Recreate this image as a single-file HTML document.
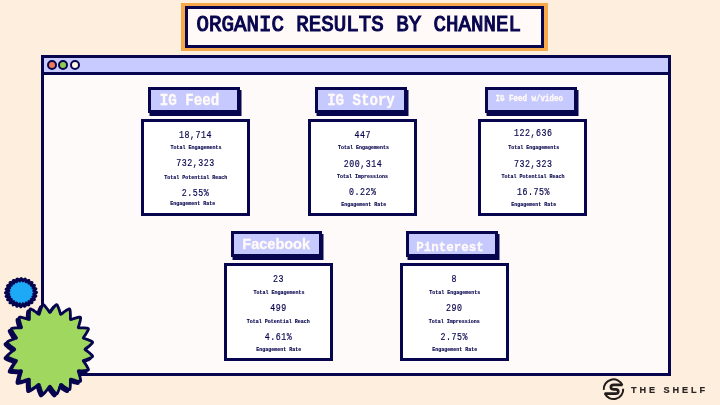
<!DOCTYPE html>
<html>
<head>
<meta charset="utf-8">
<title>Organic Results by Channel</title>
<style>
*{margin:0;padding:0;box-sizing:border-box;}
html,body{width:720px;height:405px;overflow:hidden;background:#FEEEDE;}
body{position:relative;font-family:"Liberation Mono",monospace;color:#07054E;}
.abs{position:absolute;}
#root{position:absolute;left:0;top:0;width:720px;height:405px;will-change:transform;}
#titleOuter{left:180.5px;top:3.3px;width:367.5px;height:48px;background:#F5A94B;}
#titleBox{left:185px;top:5.7px;width:359px;height:42.4px;border:3px solid #07054E;background:#FFFAF8;}
#titleText{left:196.5px;top:10.6px;height:30px;line-height:30px;font-weight:normal;-webkit-text-stroke:1.05px #07054E;font-size:20.8px;white-space:pre;transform:scale(1,1.09);transform-origin:0 50%;}
#win{left:41px;top:55px;width:630px;height:320.8px;border:3px solid #07054E;background:#FFFAFA;}
#bar{left:44px;top:58px;width:624px;height:17px;background:#C8CBFF;border-bottom:3px solid #07054E;}
.dot{width:10px;height:10px;border-radius:50%;border:2.1px solid #07054E;top:60.2px;}
.lbl{height:26.3px;border:3px solid #07054E;background:#C6C9FD;box-shadow:1.5px 3px 0 #07054E;}
.lt{-webkit-text-stroke:0.3px #FFFAF8;color:#FFFAF8;font-weight:bold;white-space:pre;text-align:center;width:200px;height:20px;line-height:20px;transform-origin:50% 50%;}
.card{border:3px solid #07054E;background:#FFFFFF;}
.num{width:120px;height:12px;font-size:8.3px;letter-spacing:0.52px;line-height:12px;text-align:center;white-space:pre;-webkit-text-stroke:0.15px #07054E;transform:scaleY(1.235);transform-origin:50% 75%;}
.cap{width:120px;height:8px;font-size:5px;line-height:8px;font-weight:bold;-webkit-text-stroke:0.12px #07054E;text-align:center;white-space:pre;transform:scaleY(1.15);transform-origin:50% 75%;}
</style>
</head>
<body>
<div id="root">
<!-- title -->
<div class="abs" id="titleOuter"></div>
<div class="abs" id="titleBox"></div>
<div class="abs" id="titleText">ORGANIC RESULTS BY CHANNEL</div>

<!-- window -->
<div class="abs" id="win"></div>
<div class="abs" id="bar"></div>
<div class="abs dot" style="left:47px;background:#F07A58;"></div>
<div class="abs dot" style="left:58.25px;background:#8FCB52;"></div>
<div class="abs dot" style="left:69.55px;background:#FFF3E2;"></div>

<!-- card 1 : IG Feed -->
<div class="abs lbl" style="left:148px;top:87px;width:91.5px;"></div>
<div class="abs lt" style="left:89.5px;top:90.6px;font-family:&quot;Liberation Mono&quot;,sans-serif;font-size:14.2px;transform:scaleY(1.1);">IG Feed</div>
<div class="abs card" style="left:141.1px;top:118.6px;width:108.8px;height:97.1px;"></div>
<div class="abs num" style="left:135.55px;top:130px;">18,714</div>
<div class="abs cap" style="left:136px;top:144px;">Total Engagements</div>
<div class="abs num" style="left:135.5px;top:158px;">732,323</div>
<div class="abs cap" style="left:135.65px;top:174px;">Total Potential Reach</div>
<div class="abs num" style="left:135.5px;top:188px;">2.55%</div>
<div class="abs cap" style="left:132.85px;top:200px;">Engagement Rate</div>

<!-- card 2 : IG Story -->
<div class="abs lbl" style="left:315.4px;top:87px;width:91.5px;"></div>
<div class="abs lt" style="left:261px;top:90px;font-family:&quot;Liberation Mono&quot;,sans-serif;font-size:14.1px;transform:scaleY(1.13);">IG Story</div>
<div class="abs card" style="left:308.2px;top:118.5px;width:109.1px;height:97.2px;"></div>
<div class="abs num" style="left:302.85px;top:130px;">447</div>
<div class="abs cap" style="left:303.6px;top:144px;">Total Engagements</div>
<div class="abs num" style="left:303px;top:159px;">200,314</div>
<div class="abs cap" style="left:302.6px;top:173px;">Total Impressions</div>
<div class="abs num" style="left:302.85px;top:187px;">0.22%</div>
<div class="abs cap" style="left:303.65px;top:201px;">Engagement Rate</div>

<!-- card 3 : IG Feed w/video -->
<div class="abs lbl" style="left:485.4px;top:87px;width:91.5px;"></div>
<div class="abs lt" style="left:429.2px;top:89.3px;font-family:&quot;Liberation Mono&quot;,sans-serif;font-size:7.5px;transform:scaleY(1.15);">IG Feed w/video</div>
<div class="abs card" style="left:478.4px;top:118.5px;width:109.1px;height:97.2px;"></div>
<div class="abs num" style="left:473.25px;top:128px;">122,636</div>
<div class="abs cap" style="left:473.7px;top:144px;">Total Engagements</div>
<div class="abs num" style="left:473.15px;top:159px;">732,323</div>
<div class="abs cap" style="left:472.95px;top:173px;">Total Potential Reach</div>
<div class="abs num" style="left:473.45px;top:187px;">16.75%</div>
<div class="abs cap" style="left:473.7px;top:201px;">Engagement Rate</div>

<!-- card 4 : Facebook -->
<div class="abs lbl" style="left:230.6px;top:231.2px;width:91.5px;"></div>
<div class="abs lt" style="left:176.2px;top:233.7px;font-family:&quot;Liberation Sans&quot;,sans-serif;font-size:14.5px;">Facebook</div>
<div class="abs card" style="left:223.9px;top:262.8px;width:109px;height:97.9px;"></div>
<div class="abs num" style="left:218.5px;top:274px;">23</div>
<div class="abs cap" style="left:218.95px;top:289px;">Total Engagements</div>
<div class="abs num" style="left:218.45px;top:303px;">499</div>
<div class="abs cap" style="left:218.2px;top:318px;">Total Potential Reach</div>
<div class="abs num" style="left:218.45px;top:332px;">4.61%</div>
<div class="abs cap" style="left:218.85px;top:346px;">Engagement Rate</div>

<!-- card 5 : Pinterest -->
<div class="abs lbl" style="left:406.4px;top:231.2px;width:91.6px;"></div>
<div class="abs lt" style="left:350.1px;top:237.7px;font-family:&quot;Liberation Mono&quot;,sans-serif;font-size:12.5px;transform:scaleY(1.08);">Pinterest</div>
<div class="abs card" style="left:399.9px;top:262.8px;width:109px;height:97.9px;"></div>
<div class="abs num" style="left:394.2px;top:274px;">8</div>
<div class="abs cap" style="left:394.7px;top:289px;">Total Engagements</div>
<div class="abs num" style="left:394.25px;top:303px;">290</div>
<div class="abs cap" style="left:394.25px;top:318px;">Total Impressions</div>
<div class="abs num" style="left:394.35px;top:332px;">2.75%</div>
<div class="abs cap" style="left:394.7px;top:346px;">Engagement Rate</div>

<!-- decorative starbursts -->
<svg class="abs" style="left:0;top:0;" width="720" height="405" viewBox="0 0 720 405">
<polygon points="36.7,292.4 36.3,292.1 35.7,291.8 35.1,291.6 34.5,291.3 33.9,291.1 33.5,290.9 33.8,290.6 34.3,290.3 34.9,289.9 35.4,289.5 35.9,289.1 36.1,288.8 35.7,288.5 35.1,288.4 34.4,288.3 33.7,288.2 33.1,288.2 32.7,288.1 32.9,287.7 33.3,287.3 33.7,286.8 34.1,286.3 34.5,285.8 34.6,285.3 34.1,285.3 33.5,285.3 32.8,285.3 32.1,285.4 31.5,285.5 31.1,285.5 31.2,285.1 31.4,284.6 31.7,284.0 32.0,283.4 32.1,282.9 32.2,282.4 31.7,282.4 31.1,282.6 30.4,282.9 29.8,283.1 29.2,283.3 28.8,283.4 28.8,283.0 28.9,282.4 29.0,281.8 29.1,281.2 29.1,280.6 29.0,280.2 28.5,280.3 28.0,280.6 27.4,281.0 26.9,281.4 26.4,281.8 26.0,282.0 25.9,281.6 25.8,281.0 25.7,280.4 25.6,279.8 25.5,279.2 25.3,278.8 24.9,279.0 24.4,279.5 24.0,279.9 23.6,280.4 23.2,280.9 22.9,281.2 22.7,280.8 22.5,280.3 22.2,279.7 21.9,279.2 21.6,278.6 21.3,278.3 21.0,278.6 20.7,279.2 20.4,279.7 20.1,280.3 19.9,280.8 19.7,281.2 19.4,280.9 19.0,280.4 18.6,279.9 18.2,279.5 17.7,279.0 17.3,278.8 17.1,279.2 17.0,279.8 16.9,280.4 16.8,281.0 16.7,281.6 16.6,282.0 16.2,281.8 15.7,281.4 15.2,281.0 14.6,280.6 14.1,280.3 13.6,280.2 13.5,280.6 13.5,281.2 13.6,281.8 13.7,282.4 13.8,283.0 13.8,283.4 13.4,283.3 12.8,283.1 12.2,282.9 11.5,282.6 10.9,282.4 10.4,282.4 10.5,282.9 10.6,283.4 10.9,284.0 11.2,284.6 11.4,285.1 11.5,285.5 11.1,285.5 10.5,285.4 9.8,285.3 9.1,285.3 8.5,285.3 8.0,285.3 8.1,285.8 8.5,286.3 8.9,286.8 9.3,287.3 9.7,287.7 9.9,288.1 9.5,288.2 8.9,288.2 8.2,288.3 7.5,288.4 6.9,288.5 6.5,288.8 6.7,289.1 7.2,289.5 7.7,289.9 8.3,290.3 8.8,290.6 9.1,290.9 8.7,291.1 8.1,291.3 7.5,291.6 6.9,291.8 6.3,292.1 5.9,292.4 6.3,292.7 6.9,293.0 7.5,293.2 8.1,293.5 8.7,293.7 9.1,293.9 8.8,294.2 8.3,294.5 7.7,294.9 7.2,295.3 6.7,295.7 6.5,296.0 6.9,296.3 7.5,296.4 8.2,296.5 8.9,296.6 9.5,296.6 9.9,296.7 9.7,297.1 9.3,297.5 8.9,298.0 8.5,298.5 8.1,299.0 8.0,299.4 8.5,299.5 9.1,299.5 9.8,299.5 10.5,299.4 11.1,299.3 11.5,299.3 11.4,299.7 11.2,300.2 10.9,300.8 10.6,301.4 10.5,301.9 10.4,302.4 10.9,302.4 11.5,302.2 12.2,301.9 12.8,301.7 13.4,301.5 13.8,301.4 13.8,301.8 13.7,302.4 13.6,303.0 13.5,303.6 13.5,304.2 13.6,304.6 14.1,304.5 14.6,304.2 15.2,303.8 15.7,303.4 16.2,303.0 16.6,302.8 16.7,303.2 16.8,303.8 16.9,304.4 17.0,305.0 17.1,305.6 17.3,306.0 17.7,305.8 18.2,305.3 18.6,304.9 19.0,304.4 19.4,303.9 19.7,303.6 19.9,304.0 20.1,304.5 20.4,305.1 20.7,305.6 21.0,306.2 21.3,306.5 21.6,306.2 21.9,305.6 22.2,305.1 22.5,304.5 22.7,304.0 22.9,303.6 23.2,303.9 23.6,304.4 24.0,304.9 24.4,305.3 24.9,305.8 25.3,306.0 25.5,305.6 25.6,305.0 25.7,304.4 25.8,303.8 25.9,303.2 26.0,302.8 26.4,303.0 26.9,303.4 27.4,303.8 28.0,304.2 28.5,304.5 29.0,304.6 29.1,304.2 29.1,303.6 29.0,303.0 28.9,302.4 28.8,301.8 28.8,301.4 29.2,301.5 29.8,301.7 30.4,301.9 31.1,302.2 31.7,302.4 32.2,302.4 32.1,301.9 32.0,301.4 31.7,300.8 31.4,300.2 31.2,299.7 31.1,299.3 31.5,299.3 32.1,299.4 32.8,299.5 33.5,299.5 34.1,299.5 34.6,299.4 34.5,299.0 34.1,298.5 33.7,298.0 33.3,297.5 32.9,297.1 32.7,296.7 33.1,296.6 33.7,296.6 34.4,296.5 35.1,296.4 35.7,296.3 36.1,296.0 35.9,295.7 35.4,295.3 34.9,294.9 34.3,294.5 33.8,294.2 33.5,293.9 33.9,293.7 34.5,293.5 35.1,293.2 35.7,293.0 36.3,292.7" transform="translate(-0.6,0.5)" fill="#07054E" stroke="#07054E" stroke-width="2.6" stroke-linejoin="round"/>
<polygon points="36.7,292.4 36.3,292.1 35.7,291.8 35.1,291.6 34.5,291.3 33.9,291.1 33.5,290.9 33.8,290.6 34.3,290.3 34.9,289.9 35.4,289.5 35.9,289.1 36.1,288.8 35.7,288.5 35.1,288.4 34.4,288.3 33.7,288.2 33.1,288.2 32.7,288.1 32.9,287.7 33.3,287.3 33.7,286.8 34.1,286.3 34.5,285.8 34.6,285.3 34.1,285.3 33.5,285.3 32.8,285.3 32.1,285.4 31.5,285.5 31.1,285.5 31.2,285.1 31.4,284.6 31.7,284.0 32.0,283.4 32.1,282.9 32.2,282.4 31.7,282.4 31.1,282.6 30.4,282.9 29.8,283.1 29.2,283.3 28.8,283.4 28.8,283.0 28.9,282.4 29.0,281.8 29.1,281.2 29.1,280.6 29.0,280.2 28.5,280.3 28.0,280.6 27.4,281.0 26.9,281.4 26.4,281.8 26.0,282.0 25.9,281.6 25.8,281.0 25.7,280.4 25.6,279.8 25.5,279.2 25.3,278.8 24.9,279.0 24.4,279.5 24.0,279.9 23.6,280.4 23.2,280.9 22.9,281.2 22.7,280.8 22.5,280.3 22.2,279.7 21.9,279.2 21.6,278.6 21.3,278.3 21.0,278.6 20.7,279.2 20.4,279.7 20.1,280.3 19.9,280.8 19.7,281.2 19.4,280.9 19.0,280.4 18.6,279.9 18.2,279.5 17.7,279.0 17.3,278.8 17.1,279.2 17.0,279.8 16.9,280.4 16.8,281.0 16.7,281.6 16.6,282.0 16.2,281.8 15.7,281.4 15.2,281.0 14.6,280.6 14.1,280.3 13.6,280.2 13.5,280.6 13.5,281.2 13.6,281.8 13.7,282.4 13.8,283.0 13.8,283.4 13.4,283.3 12.8,283.1 12.2,282.9 11.5,282.6 10.9,282.4 10.4,282.4 10.5,282.9 10.6,283.4 10.9,284.0 11.2,284.6 11.4,285.1 11.5,285.5 11.1,285.5 10.5,285.4 9.8,285.3 9.1,285.3 8.5,285.3 8.0,285.3 8.1,285.8 8.5,286.3 8.9,286.8 9.3,287.3 9.7,287.7 9.9,288.1 9.5,288.2 8.9,288.2 8.2,288.3 7.5,288.4 6.9,288.5 6.5,288.8 6.7,289.1 7.2,289.5 7.7,289.9 8.3,290.3 8.8,290.6 9.1,290.9 8.7,291.1 8.1,291.3 7.5,291.6 6.9,291.8 6.3,292.1 5.9,292.4 6.3,292.7 6.9,293.0 7.5,293.2 8.1,293.5 8.7,293.7 9.1,293.9 8.8,294.2 8.3,294.5 7.7,294.9 7.2,295.3 6.7,295.7 6.5,296.0 6.9,296.3 7.5,296.4 8.2,296.5 8.9,296.6 9.5,296.6 9.9,296.7 9.7,297.1 9.3,297.5 8.9,298.0 8.5,298.5 8.1,299.0 8.0,299.4 8.5,299.5 9.1,299.5 9.8,299.5 10.5,299.4 11.1,299.3 11.5,299.3 11.4,299.7 11.2,300.2 10.9,300.8 10.6,301.4 10.5,301.9 10.4,302.4 10.9,302.4 11.5,302.2 12.2,301.9 12.8,301.7 13.4,301.5 13.8,301.4 13.8,301.8 13.7,302.4 13.6,303.0 13.5,303.6 13.5,304.2 13.6,304.6 14.1,304.5 14.6,304.2 15.2,303.8 15.7,303.4 16.2,303.0 16.6,302.8 16.7,303.2 16.8,303.8 16.9,304.4 17.0,305.0 17.1,305.6 17.3,306.0 17.7,305.8 18.2,305.3 18.6,304.9 19.0,304.4 19.4,303.9 19.7,303.6 19.9,304.0 20.1,304.5 20.4,305.1 20.7,305.6 21.0,306.2 21.3,306.5 21.6,306.2 21.9,305.6 22.2,305.1 22.5,304.5 22.7,304.0 22.9,303.6 23.2,303.9 23.6,304.4 24.0,304.9 24.4,305.3 24.9,305.8 25.3,306.0 25.5,305.6 25.6,305.0 25.7,304.4 25.8,303.8 25.9,303.2 26.0,302.8 26.4,303.0 26.9,303.4 27.4,303.8 28.0,304.2 28.5,304.5 29.0,304.6 29.1,304.2 29.1,303.6 29.0,303.0 28.9,302.4 28.8,301.8 28.8,301.4 29.2,301.5 29.8,301.7 30.4,301.9 31.1,302.2 31.7,302.4 32.2,302.4 32.1,301.9 32.0,301.4 31.7,300.8 31.4,300.2 31.2,299.7 31.1,299.3 31.5,299.3 32.1,299.4 32.8,299.5 33.5,299.5 34.1,299.5 34.6,299.4 34.5,299.0 34.1,298.5 33.7,298.0 33.3,297.5 32.9,297.1 32.7,296.7 33.1,296.6 33.7,296.6 34.4,296.5 35.1,296.4 35.7,296.3 36.1,296.0 35.9,295.7 35.4,295.3 34.9,294.9 34.3,294.5 33.8,294.2 33.5,293.9 33.9,293.7 34.5,293.5 35.1,293.2 35.7,293.0 36.3,292.7" fill="#1DA9F6" stroke="#07054E" stroke-width="2.6" stroke-linejoin="round"/>
<polygon points="85.0,349.3 85.4,348.8 86.0,348.3 86.8,347.8 87.5,347.2 88.2,346.7 89.0,346.1 89.7,345.5 90.4,344.8 91.1,344.2 91.8,343.5 92.4,342.9 92.6,342.2 92.2,341.7 91.4,341.2 90.6,340.8 89.8,340.4 88.9,340.1 88.0,339.7 87.1,339.4 86.3,339.1 85.4,338.8 84.6,338.5 83.8,338.3 83.3,337.9 83.5,337.4 84.0,336.7 84.5,335.9 85.1,335.2 85.6,334.4 86.1,333.6 86.6,332.8 87.1,331.9 87.6,331.1 88.0,330.3 88.4,329.4 88.4,328.7 87.9,328.4 87.0,328.2 86.1,328.1 85.2,328.0 84.3,327.9 83.3,327.9 82.4,327.8 81.5,327.8 80.6,327.8 79.7,327.9 78.9,327.9 78.3,327.7 78.3,327.1 78.6,326.3 78.9,325.4 79.2,324.5 79.4,323.6 79.7,322.6 80.0,321.7 80.2,320.7 80.4,319.8 80.6,318.8 80.6,317.9 80.5,317.3 79.8,317.1 79.0,317.2 78.1,317.4 77.2,317.6 76.3,317.8 75.4,318.1 74.5,318.4 73.6,318.7 72.7,319.0 71.9,319.3 71.1,319.5 70.6,319.5 70.4,319.0 70.4,318.1 70.4,317.2 70.4,316.2 70.4,315.3 70.4,314.3 70.3,313.3 70.3,312.3 70.2,311.4 70.1,310.4 69.9,309.5 69.5,308.9 68.9,309.0 68.1,309.4 67.3,309.8 66.5,310.3 65.7,310.8 64.9,311.4 64.1,311.9 63.4,312.5 62.7,313.1 62.0,313.6 61.3,314.1 60.8,314.3 60.4,313.8 60.2,313.0 59.9,312.1 59.6,311.2 59.4,310.3 59.1,309.4 58.7,308.5 58.4,307.6 58.0,306.7 57.6,305.8 57.2,305.0 56.7,304.6 56.1,304.8 55.4,305.4 54.8,306.1 54.2,306.9 53.6,307.6 53.0,308.4 52.4,309.1 51.9,309.9 51.3,310.7 50.8,311.5 50.4,312.1 49.9,312.5 49.4,312.1 49.0,311.5 48.5,310.7 47.9,309.9 47.4,309.1 46.8,308.4 46.2,307.6 45.6,306.9 45.0,306.1 44.4,305.4 43.7,304.8 43.1,304.6 42.6,305.0 42.2,305.8 41.8,306.7 41.4,307.6 41.1,308.5 40.7,309.4 40.4,310.3 40.2,311.2 39.9,312.1 39.6,313.0 39.4,313.8 39.0,314.3 38.5,314.1 37.8,313.6 37.1,313.1 36.4,312.5 35.7,311.9 34.9,311.4 34.1,310.8 33.3,310.3 32.5,309.8 31.7,309.4 30.9,309.0 30.3,308.9 29.9,309.5 29.7,310.4 29.6,311.4 29.5,312.3 29.5,313.3 29.4,314.3 29.4,315.3 29.4,316.2 29.4,317.2 29.4,318.1 29.4,319.0 29.2,319.5 28.7,319.5 27.9,319.3 27.1,319.0 26.2,318.7 25.3,318.4 24.4,318.1 23.5,317.8 22.6,317.6 21.7,317.4 20.8,317.2 20.0,317.1 19.3,317.3 19.2,317.9 19.2,318.8 19.4,319.8 19.6,320.7 19.8,321.7 20.1,322.6 20.4,323.6 20.6,324.5 20.9,325.4 21.2,326.3 21.5,327.1 21.5,327.7 20.9,327.9 20.1,327.9 19.2,327.8 18.3,327.8 17.4,327.8 16.5,327.9 15.5,327.9 14.6,328.0 13.7,328.1 12.8,328.2 11.9,328.4 11.4,328.7 11.4,329.4 11.8,330.3 12.2,331.1 12.7,331.9 13.2,332.8 13.7,333.6 14.2,334.4 14.7,335.2 15.3,335.9 15.8,336.7 16.3,337.4 16.5,337.9 16.0,338.3 15.2,338.5 14.4,338.8 13.5,339.1 12.7,339.4 11.8,339.7 10.9,340.1 10.0,340.4 9.2,340.8 8.4,341.2 7.6,341.7 7.2,342.2 7.4,342.9 8.0,343.5 8.7,344.2 9.4,344.8 10.1,345.5 10.8,346.1 11.6,346.7 12.3,347.2 13.0,347.8 13.8,348.3 14.4,348.8 14.8,349.3 14.4,349.8 13.8,350.3 13.0,350.8 12.3,351.4 11.6,351.9 10.8,352.5 10.1,353.1 9.4,353.8 8.7,354.4 8.0,355.1 7.4,355.7 7.2,356.4 7.6,356.9 8.4,357.4 9.2,357.8 10.0,358.2 10.9,358.5 11.8,358.9 12.7,359.2 13.5,359.5 14.4,359.8 15.2,360.1 16.0,360.3 16.5,360.7 16.3,361.2 15.8,361.9 15.3,362.7 14.7,363.4 14.2,364.2 13.7,365.0 13.2,365.8 12.7,366.7 12.2,367.5 11.8,368.3 11.4,369.2 11.4,369.9 11.9,370.2 12.8,370.4 13.7,370.5 14.6,370.6 15.5,370.7 16.5,370.7 17.4,370.8 18.3,370.8 19.2,370.8 20.1,370.7 20.9,370.7 21.5,370.9 21.5,371.5 21.2,372.3 20.9,373.2 20.6,374.1 20.4,375.0 20.1,376.0 19.8,376.9 19.6,377.9 19.4,378.8 19.2,379.8 19.2,380.7 19.3,381.3 20.0,381.5 20.8,381.4 21.7,381.2 22.6,381.0 23.5,380.8 24.4,380.5 25.3,380.2 26.2,379.9 27.1,379.6 27.9,379.3 28.7,379.1 29.2,379.1 29.4,379.6 29.4,380.5 29.4,381.4 29.4,382.4 29.4,383.3 29.4,384.3 29.5,385.3 29.5,386.3 29.6,387.2 29.7,388.2 29.9,389.1 30.3,389.7 30.9,389.6 31.7,389.2 32.5,388.8 33.3,388.3 34.1,387.8 34.9,387.2 35.7,386.7 36.4,386.1 37.1,385.5 37.8,385.0 38.5,384.5 39.0,384.3 39.4,384.8 39.6,385.6 39.9,386.5 40.2,387.4 40.4,388.3 40.7,389.2 41.1,390.1 41.4,391.0 41.8,391.9 42.2,392.8 42.6,393.6 43.1,394.0 43.7,393.8 44.4,393.2 45.0,392.5 45.6,391.7 46.2,391.0 46.8,390.2 47.4,389.5 47.9,388.7 48.5,387.9 49.0,387.1 49.4,386.5 49.9,386.1 50.4,386.5 50.8,387.1 51.3,387.9 51.9,388.7 52.4,389.5 53.0,390.2 53.6,391.0 54.2,391.7 54.8,392.5 55.4,393.2 56.1,393.8 56.7,394.0 57.2,393.6 57.6,392.8 58.0,391.9 58.4,391.0 58.7,390.1 59.1,389.2 59.4,388.3 59.6,387.4 59.9,386.5 60.2,385.6 60.4,384.8 60.8,384.3 61.3,384.5 62.0,385.0 62.7,385.5 63.4,386.1 64.1,386.7 64.9,387.2 65.7,387.8 66.5,388.3 67.3,388.8 68.1,389.2 68.9,389.6 69.5,389.7 69.9,389.1 70.1,388.2 70.2,387.2 70.3,386.3 70.3,385.3 70.4,384.3 70.4,383.3 70.4,382.4 70.4,381.4 70.4,380.5 70.4,379.6 70.6,379.1 71.1,379.1 71.9,379.3 72.7,379.6 73.6,379.9 74.5,380.2 75.4,380.5 76.3,380.8 77.2,381.0 78.1,381.2 79.0,381.4 79.8,381.5 80.5,381.3 80.6,380.7 80.6,379.8 80.4,378.8 80.2,377.9 80.0,376.9 79.7,376.0 79.4,375.0 79.2,374.1 78.9,373.2 78.6,372.3 78.3,371.5 78.3,370.9 78.9,370.7 79.7,370.7 80.6,370.8 81.5,370.8 82.4,370.8 83.3,370.7 84.3,370.7 85.2,370.6 86.1,370.5 87.0,370.4 87.9,370.2 88.4,369.9 88.4,369.2 88.0,368.3 87.6,367.5 87.1,366.7 86.6,365.8 86.1,365.0 85.6,364.2 85.1,363.4 84.5,362.7 84.0,361.9 83.5,361.2 83.3,360.7 83.8,360.3 84.6,360.1 85.4,359.8 86.3,359.5 87.1,359.2 88.0,358.9 88.9,358.5 89.8,358.2 90.6,357.8 91.4,357.4 92.2,356.9 92.6,356.4 92.4,355.7 91.8,355.1 91.1,354.4 90.4,353.8 89.7,353.1 89.0,352.5 88.2,351.9 87.5,351.4 86.8,350.8 86.0,350.3 85.4,349.8" transform="translate(-2.2,2)" fill="#07054E" stroke="#07054E" stroke-width="2.8" stroke-linejoin="round"/>
<polygon points="85.0,349.3 85.4,348.8 86.0,348.3 86.8,347.8 87.5,347.2 88.2,346.7 89.0,346.1 89.7,345.5 90.4,344.8 91.1,344.2 91.8,343.5 92.4,342.9 92.6,342.2 92.2,341.7 91.4,341.2 90.6,340.8 89.8,340.4 88.9,340.1 88.0,339.7 87.1,339.4 86.3,339.1 85.4,338.8 84.6,338.5 83.8,338.3 83.3,337.9 83.5,337.4 84.0,336.7 84.5,335.9 85.1,335.2 85.6,334.4 86.1,333.6 86.6,332.8 87.1,331.9 87.6,331.1 88.0,330.3 88.4,329.4 88.4,328.7 87.9,328.4 87.0,328.2 86.1,328.1 85.2,328.0 84.3,327.9 83.3,327.9 82.4,327.8 81.5,327.8 80.6,327.8 79.7,327.9 78.9,327.9 78.3,327.7 78.3,327.1 78.6,326.3 78.9,325.4 79.2,324.5 79.4,323.6 79.7,322.6 80.0,321.7 80.2,320.7 80.4,319.8 80.6,318.8 80.6,317.9 80.5,317.3 79.8,317.1 79.0,317.2 78.1,317.4 77.2,317.6 76.3,317.8 75.4,318.1 74.5,318.4 73.6,318.7 72.7,319.0 71.9,319.3 71.1,319.5 70.6,319.5 70.4,319.0 70.4,318.1 70.4,317.2 70.4,316.2 70.4,315.3 70.4,314.3 70.3,313.3 70.3,312.3 70.2,311.4 70.1,310.4 69.9,309.5 69.5,308.9 68.9,309.0 68.1,309.4 67.3,309.8 66.5,310.3 65.7,310.8 64.9,311.4 64.1,311.9 63.4,312.5 62.7,313.1 62.0,313.6 61.3,314.1 60.8,314.3 60.4,313.8 60.2,313.0 59.9,312.1 59.6,311.2 59.4,310.3 59.1,309.4 58.7,308.5 58.4,307.6 58.0,306.7 57.6,305.8 57.2,305.0 56.7,304.6 56.1,304.8 55.4,305.4 54.8,306.1 54.2,306.9 53.6,307.6 53.0,308.4 52.4,309.1 51.9,309.9 51.3,310.7 50.8,311.5 50.4,312.1 49.9,312.5 49.4,312.1 49.0,311.5 48.5,310.7 47.9,309.9 47.4,309.1 46.8,308.4 46.2,307.6 45.6,306.9 45.0,306.1 44.4,305.4 43.7,304.8 43.1,304.6 42.6,305.0 42.2,305.8 41.8,306.7 41.4,307.6 41.1,308.5 40.7,309.4 40.4,310.3 40.2,311.2 39.9,312.1 39.6,313.0 39.4,313.8 39.0,314.3 38.5,314.1 37.8,313.6 37.1,313.1 36.4,312.5 35.7,311.9 34.9,311.4 34.1,310.8 33.3,310.3 32.5,309.8 31.7,309.4 30.9,309.0 30.3,308.9 29.9,309.5 29.7,310.4 29.6,311.4 29.5,312.3 29.5,313.3 29.4,314.3 29.4,315.3 29.4,316.2 29.4,317.2 29.4,318.1 29.4,319.0 29.2,319.5 28.7,319.5 27.9,319.3 27.1,319.0 26.2,318.7 25.3,318.4 24.4,318.1 23.5,317.8 22.6,317.6 21.7,317.4 20.8,317.2 20.0,317.1 19.3,317.3 19.2,317.9 19.2,318.8 19.4,319.8 19.6,320.7 19.8,321.7 20.1,322.6 20.4,323.6 20.6,324.5 20.9,325.4 21.2,326.3 21.5,327.1 21.5,327.7 20.9,327.9 20.1,327.9 19.2,327.8 18.3,327.8 17.4,327.8 16.5,327.9 15.5,327.9 14.6,328.0 13.7,328.1 12.8,328.2 11.9,328.4 11.4,328.7 11.4,329.4 11.8,330.3 12.2,331.1 12.7,331.9 13.2,332.8 13.7,333.6 14.2,334.4 14.7,335.2 15.3,335.9 15.8,336.7 16.3,337.4 16.5,337.9 16.0,338.3 15.2,338.5 14.4,338.8 13.5,339.1 12.7,339.4 11.8,339.7 10.9,340.1 10.0,340.4 9.2,340.8 8.4,341.2 7.6,341.7 7.2,342.2 7.4,342.9 8.0,343.5 8.7,344.2 9.4,344.8 10.1,345.5 10.8,346.1 11.6,346.7 12.3,347.2 13.0,347.8 13.8,348.3 14.4,348.8 14.8,349.3 14.4,349.8 13.8,350.3 13.0,350.8 12.3,351.4 11.6,351.9 10.8,352.5 10.1,353.1 9.4,353.8 8.7,354.4 8.0,355.1 7.4,355.7 7.2,356.4 7.6,356.9 8.4,357.4 9.2,357.8 10.0,358.2 10.9,358.5 11.8,358.9 12.7,359.2 13.5,359.5 14.4,359.8 15.2,360.1 16.0,360.3 16.5,360.7 16.3,361.2 15.8,361.9 15.3,362.7 14.7,363.4 14.2,364.2 13.7,365.0 13.2,365.8 12.7,366.7 12.2,367.5 11.8,368.3 11.4,369.2 11.4,369.9 11.9,370.2 12.8,370.4 13.7,370.5 14.6,370.6 15.5,370.7 16.5,370.7 17.4,370.8 18.3,370.8 19.2,370.8 20.1,370.7 20.9,370.7 21.5,370.9 21.5,371.5 21.2,372.3 20.9,373.2 20.6,374.1 20.4,375.0 20.1,376.0 19.8,376.9 19.6,377.9 19.4,378.8 19.2,379.8 19.2,380.7 19.3,381.3 20.0,381.5 20.8,381.4 21.7,381.2 22.6,381.0 23.5,380.8 24.4,380.5 25.3,380.2 26.2,379.9 27.1,379.6 27.9,379.3 28.7,379.1 29.2,379.1 29.4,379.6 29.4,380.5 29.4,381.4 29.4,382.4 29.4,383.3 29.4,384.3 29.5,385.3 29.5,386.3 29.6,387.2 29.7,388.2 29.9,389.1 30.3,389.7 30.9,389.6 31.7,389.2 32.5,388.8 33.3,388.3 34.1,387.8 34.9,387.2 35.7,386.7 36.4,386.1 37.1,385.5 37.8,385.0 38.5,384.5 39.0,384.3 39.4,384.8 39.6,385.6 39.9,386.5 40.2,387.4 40.4,388.3 40.7,389.2 41.1,390.1 41.4,391.0 41.8,391.9 42.2,392.8 42.6,393.6 43.1,394.0 43.7,393.8 44.4,393.2 45.0,392.5 45.6,391.7 46.2,391.0 46.8,390.2 47.4,389.5 47.9,388.7 48.5,387.9 49.0,387.1 49.4,386.5 49.9,386.1 50.4,386.5 50.8,387.1 51.3,387.9 51.9,388.7 52.4,389.5 53.0,390.2 53.6,391.0 54.2,391.7 54.8,392.5 55.4,393.2 56.1,393.8 56.7,394.0 57.2,393.6 57.6,392.8 58.0,391.9 58.4,391.0 58.7,390.1 59.1,389.2 59.4,388.3 59.6,387.4 59.9,386.5 60.2,385.6 60.4,384.8 60.8,384.3 61.3,384.5 62.0,385.0 62.7,385.5 63.4,386.1 64.1,386.7 64.9,387.2 65.7,387.8 66.5,388.3 67.3,388.8 68.1,389.2 68.9,389.6 69.5,389.7 69.9,389.1 70.1,388.2 70.2,387.2 70.3,386.3 70.3,385.3 70.4,384.3 70.4,383.3 70.4,382.4 70.4,381.4 70.4,380.5 70.4,379.6 70.6,379.1 71.1,379.1 71.9,379.3 72.7,379.6 73.6,379.9 74.5,380.2 75.4,380.5 76.3,380.8 77.2,381.0 78.1,381.2 79.0,381.4 79.8,381.5 80.5,381.3 80.6,380.7 80.6,379.8 80.4,378.8 80.2,377.9 80.0,376.9 79.7,376.0 79.4,375.0 79.2,374.1 78.9,373.2 78.6,372.3 78.3,371.5 78.3,370.9 78.9,370.7 79.7,370.7 80.6,370.8 81.5,370.8 82.4,370.8 83.3,370.7 84.3,370.7 85.2,370.6 86.1,370.5 87.0,370.4 87.9,370.2 88.4,369.9 88.4,369.2 88.0,368.3 87.6,367.5 87.1,366.7 86.6,365.8 86.1,365.0 85.6,364.2 85.1,363.4 84.5,362.7 84.0,361.9 83.5,361.2 83.3,360.7 83.8,360.3 84.6,360.1 85.4,359.8 86.3,359.5 87.1,359.2 88.0,358.9 88.9,358.5 89.8,358.2 90.6,357.8 91.4,357.4 92.2,356.9 92.6,356.4 92.4,355.7 91.8,355.1 91.1,354.4 90.4,353.8 89.7,353.1 89.0,352.5 88.2,351.9 87.5,351.4 86.8,350.8 86.0,350.3 85.4,349.8" fill="#A0D75F" stroke="#07054E" stroke-width="2.8" stroke-linejoin="round"/>
</svg>
<!-- logo -->
<svg class="abs" style="left:598px;top:376px;" width="32" height="28" viewBox="598 376 32 28" fill="none" stroke="#221C1C" stroke-linecap="butt" stroke-linejoin="round">
<path d="M603.8 389.9 A9.7 9.7 0 0 1 622.4 385.3" stroke-width="2"/>
<path d="M623.2 388.7 A9.7 9.7 0 0 1 604.7 393.4" stroke-width="2"/>
<path d="M622.4 384.9 L613.6 384.9 Q610.9 384.9 610.9 387.1 Q610.9 389.3 613.4 389.3 L615.8 389.3 Q618.3 389.3 618.3 391.5 Q618.3 393.7 615.6 393.7 L604.6 393.7" stroke-width="2.7"/>
</svg>
<div class="abs logoT" style="left:631px;top:384.4px;font-family:&quot;Liberation Sans&quot;,sans-serif;font-weight:bold;font-size:9.1px;line-height:12px;letter-spacing:2.95px;color:#2A2323;-webkit-text-stroke:0.2px #2A2323;white-space:pre;">THE SHELF</div>

</div>
</body>
</html>
